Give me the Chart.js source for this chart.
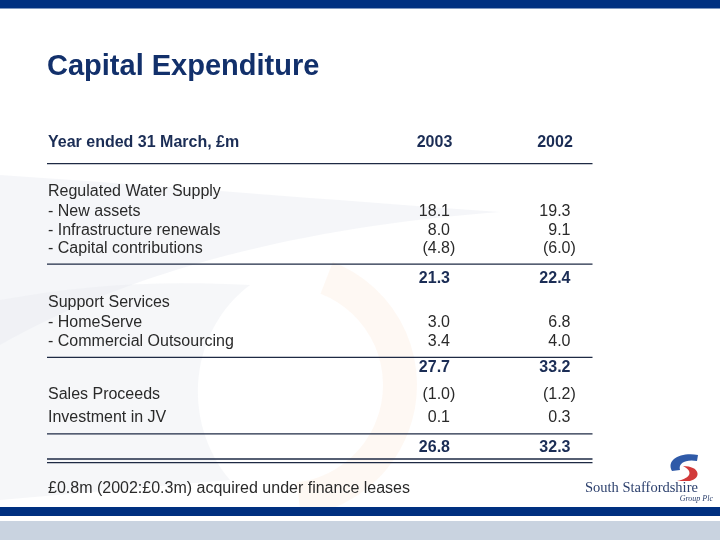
<!DOCTYPE html>
<html><head><meta charset="utf-8">
<script src="https://cdn.jsdelivr.net/npm/chart.js@4/dist/chart.umd.min.js"></script>
<style>html,body{margin:0;padding:0;background:#fff}#c{display:block}</style>
</head><body>
<canvas id="c" width="720" height="540"></canvas>
<script>
// ---- data ----
const title = 'Capital Expenditure';
const headerLabel = 'Year ended 31 March, £m';
const years = ['2003', '2002'];
const rowLabels = ['Regulated Water Supply', '- New assets', '- Infrastructure renewals', '- Capital contributions', '',
  'Support Services', '- HomeServe', '- Commercial Outsourcing', '', 'Sales Proceeds', 'Investment in JV', ''];
const values2003 = [null, 18.1, 8.0, -4.8, 21.3, null, 3.0, 3.4, 27.7, -1.0, 0.1, 26.8];
const values2002 = [null, 19.3, 9.1, -6.0, 22.4, null, 6.8, 4.0, 33.2, -1.2, 0.3, 32.3];
const totalRows = [4, 8, 11];
const footnote = '£0.8m (2002:£0.3m) acquired under finance leases';

// ---- layout (table line units on the y scale) ----
const rowLine = [0, 1, 2, 2.95, 4.48, 5.71, 6.72, 7.73, 9.04, 10.46, 11.65, 13.16];
const headerLine = -2.55;
const ruleLines = [-1.39, 3.79, 8.6, 12.55];
const doubleRuleLines = [13.84, 14.03];

const series = [values2003, values2002];
const NAVY = '#12306b', HEAD = '#1b2d55', TEXT = '#2a2a2a', RULE = '#1e2a44';

function txt(ctx, s, x, yc, size, weight, color, align, family) {
  ctx.font = (weight || '') + ' ' + size + 'px ' + (family || '"Liberation Sans", Arial, sans-serif');
  ctx.fillStyle = color;
  ctx.textAlign = align || 'left';
  ctx.textBaseline = 'alphabetic';
  ctx.fillText(s, x, yc + size * 0.358);
}

const tablePlugin = {
  id: 'table',
  beforeDraw(chart) {
    const ctx = chart.ctx;
    ctx.save();
    ctx.fillStyle = '#fff';
    ctx.fillRect(0, 0, 720, 540);
    // faint watermark swooshes
    ctx.fillStyle = 'rgba(226,230,238,0.35)';
    ctx.beginPath();
    ctx.moveTo(0, 175);
    ctx.bezierCurveTo(150, 185, 330, 200, 500, 212);
    ctx.bezierCurveTo(330, 225, 150, 260, 0, 345);
    ctx.closePath();
    ctx.fill();
    ctx.fillStyle = 'rgba(232,235,241,0.4)';
    ctx.beginPath();
    ctx.moveTo(0, 300);
    ctx.bezierCurveTo(80, 285, 160, 280, 250, 285);
    ctx.bezierCurveTo(190, 330, 180, 420, 230, 480);
    ctx.lineTo(0, 500);
    ctx.closePath();
    ctx.fill();
    ctx.strokeStyle = 'rgba(253,232,216,0.3)';
    ctx.lineWidth = 34;
    ctx.beginPath();
    ctx.arc(285, 385, 115, -1.2, 1.45);
    ctx.stroke();
    // top & bottom bands
    ctx.fillStyle = '#003080';
    ctx.fillRect(0, 0, 720, 8.5);
    ctx.fillRect(0, 507, 720, 9);
    ctx.fillStyle = '#c9d3e0';
    ctx.fillRect(0, 521, 720, 19);
    // logo mark
    ctx.fillStyle = '#2f5aa8';
    ctx.beginPath();
    ctx.moveTo(672, 471);
    ctx.bezierCurveTo(666, 460, 680, 452, 698, 455);
    ctx.lineTo(697, 461);
    ctx.bezierCurveTo(686, 459, 678, 463, 680, 470);
    ctx.closePath();
    ctx.fill();
    ctx.fillStyle = '#d23a3a';
    ctx.beginPath();
    ctx.moveTo(683, 466);
    ctx.bezierCurveTo(700, 466, 702, 478, 690, 481);
    ctx.lineTo(677, 481);
    ctx.bezierCurveTo(692, 478, 693, 471, 683, 466);
    ctx.closePath();
    ctx.fill();
    ctx.restore();
  },
  afterDraw(chart) {
    const ctx = chart.ctx;
    const ys = chart.scales.y, xs = chart.scales.x;
    ctx.save();
    // title
    txt(ctx, title, 47, 64.5, 29, 'bold', NAVY);
    // header row
    const hy = ys.getPixelForValue(headerLine);
    txt(ctx, headerLabel, 48, hy, 16, 'bold', HEAD);
    years.forEach((yr, k) => txt(ctx, yr, xs.getPixelForValue(k), hy, 16, 'bold', HEAD, 'center'));
    // rules
    ctx.strokeStyle = RULE;
    ctx.lineWidth = 1.3;
    ruleLines.concat(doubleRuleLines).forEach(l => {
      const y = ys.getPixelForValue(l);
      ctx.beginPath();
      ctx.moveTo(47, y);
      ctx.lineTo(592.5, y);
      ctx.stroke();
    });
    // row labels
    rowLabels.forEach((lab, i) => {
      if (lab) txt(ctx, lab, 48, ys.getPixelForValue(rowLine[i]), 16, '', TEXT);
    });
    // values from dataset elements
    chart.data.datasets.forEach((ds, k) => {
      const meta = chart.getDatasetMeta(k);
      meta.data.forEach((el, j) => {
        const d = ds.data[j];
        const bold = totalRows.includes(d.row);
        const weight = bold ? 'bold' : '';
        const color = bold ? HEAD : TEXT;
        const right = el.x + 15.5;
        ctx.font = weight + ' 16px "Liberation Sans", Arial, sans-serif';
        if (d.v < 0) {
          const pw = ctx.measureText(')').width;
          txt(ctx, '(' + Math.abs(d.v).toFixed(1) + ')', right + pw, el.y, 16, weight, color, 'right');
        } else {
          txt(ctx, d.v.toFixed(1), right, el.y, 16, weight, color, 'right');
        }
      });
    });
    // footnote
    txt(ctx, footnote, 48, 487.5, 16, '', TEXT);
    // logo text
    ctx.font = '14.5px "Liberation Serif", "Times New Roman", serif';
    ctx.fillStyle = '#2b3f6c';
    ctx.textAlign = 'left';
    ctx.textBaseline = 'alphabetic';
    ctx.fillText('South Staffordshire', 585, 492);
    ctx.font = 'italic 8px "Liberation Serif", serif';
    ctx.textAlign = 'right';
    ctx.fillText('Group Plc', 713, 500.5);
    ctx.restore();
  }
};

new Chart(document.getElementById('c').getContext('2d'), {
  type: 'line',
  data: {
    labels: years,
    datasets: years.map((yr, k) => ({
      label: yr,
      data: series[k].map((v, i) => ({ x: yr, y: rowLine[i], v: v, row: i })).filter(d => d.v !== null),
      showLine: false,
      pointRadius: 0,
      pointHoverRadius: 0
    }))
  },
  options: {
    responsive: false,
    animation: false,
    events: [],
    layout: { padding: { left: 374.25, right: 104.75, top: 171.1, bottom: 58.5 } },
    scales: {
      x: { type: 'category', display: false, offset: true },
      y: { type: 'linear', display: false, reverse: true, min: -1, max: 15 }
    },
    plugins: { legend: { display: false }, tooltip: { enabled: false }, title: { display: false } }
  },
  plugins: [tablePlugin]
});
</script>
</body></html>
